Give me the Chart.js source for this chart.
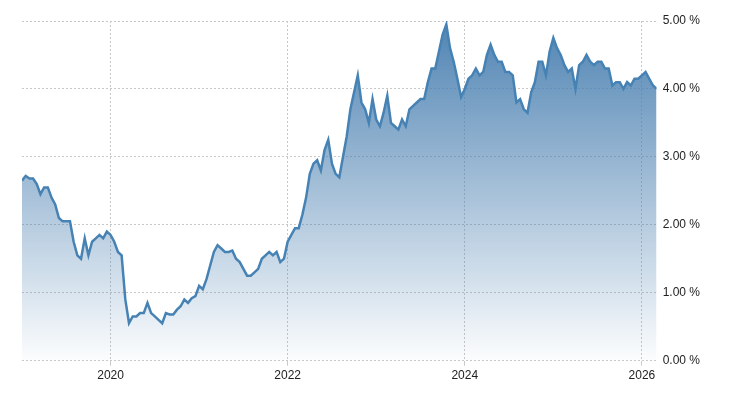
<!DOCTYPE html>
<html>
<head>
<meta charset="utf-8">
<script src="https://cdn.jsdelivr.net/npm/chart.js@4"></script>
<style>
  body { margin: 0; background: #fff; }
  #wrap { width: 730px; height: 400px; }
</style>
</head>
<body>
<div id="wrap"><canvas id="chart"></canvas></div>
<script>
// yield, two readings per month from Jan 2019
const startYear = 2019;
const yields = [
  2.65, 2.72, 2.68, 2.68, 2.60, 2.45, 2.55, 2.55, 2.40, 2.30, 2.10, 2.05,
  2.05, 2.05, 1.75, 1.55, 1.50, 1.80, 1.55, 1.75, 1.80, 1.85, 1.80, 1.90,
  1.85, 1.75, 1.60, 1.55, 0.90, 0.55, 0.65, 0.65, 0.70, 0.70, 0.85, 0.70,
  0.65, 0.60, 0.55, 0.70, 0.68, 0.68, 0.75, 0.80, 0.90, 0.85, 0.92, 0.95,
  1.10, 1.05, 1.20, 1.40, 1.60, 1.70, 1.65, 1.60, 1.60, 1.62, 1.50, 1.45,
  1.35, 1.25, 1.25, 1.30, 1.35, 1.50, 1.55, 1.60, 1.55, 1.60, 1.45, 1.50,
  1.75, 1.85, 1.95, 1.95, 2.15, 2.40, 2.75, 2.90, 2.95, 2.80, 3.10, 3.25,
  2.90, 2.75, 2.70, 3.00, 3.30, 3.70, 3.95, 4.20, 3.80, 3.70, 3.50, 3.85,
  3.55, 3.45, 3.65, 3.90, 3.50, 3.45, 3.40, 3.55, 3.45, 3.70, 3.75, 3.80,
  3.85, 3.85, 4.10, 4.30, 4.30, 4.55, 4.80, 4.95, 4.60, 4.40, 4.15, 3.88,
  4.00, 4.15, 4.20, 4.30, 4.20, 4.25, 4.50, 4.65, 4.50, 4.40, 4.40, 4.25,
  4.25, 4.20, 3.80, 3.85, 3.70, 3.65, 3.95, 4.10, 4.40, 4.40, 4.20, 4.55,
  4.75, 4.60, 4.50, 4.35, 4.25, 4.30, 4.00, 4.35, 4.40, 4.50, 4.40, 4.35,
  4.40, 4.40, 4.30, 4.30, 4.05, 4.10, 4.10, 4.00, 4.10, 4.05, 4.15, 4.15,
  4.20, 4.25, 4.15, 4.05, 4.00
];
const yearTicks = [2020, 2022, 2024, 2026];

const points = yields.map((v, i) => ({ x: startYear + i / 24, y: v }));

const ctx = document.getElementById('chart').getContext('2d');
const grad = ctx.createLinearGradient(0, 21, 0, 360);
grad.addColorStop(0, 'rgba(70,125,175,0.95)');
grad.addColorStop(1, 'rgba(70,125,175,0.02)');

new Chart(ctx, {
  type: 'line',
  data: {
    datasets: [{
      data: points,
      borderColor: '#4682b4',
      borderWidth: 2.5,
      backgroundColor: grad,
      fill: 'origin',
      pointRadius: 0,
      tension: 0,
    }],
  },
  options: {
    responsive: true,
    maintainAspectRatio: false,
    animation: false,
    layout: { padding: { left: 22, top: 21, right: 24, bottom: 14 } },
    plugins: { legend: { display: false }, tooltip: { enabled: false } },
    scales: {
      x: {
        type: 'linear',
        min: startYear,
        max: startYear + (yields.length - 1) / 24,
        afterBuildTicks: (axis) => { axis.ticks = yearTicks.map((v) => ({ value: v })); },
        ticks: { color: '#222', font: { family: 'Arial, Liberation Sans', size: 12 }, callback: (v) => String(v), maxRotation: 0 },
        grid: { color: '#c8c8c8', drawTicks: true, tickLength: 5 },
        border: { display: false, dash: [2, 2] },
      },
      y: {
        position: 'right',
        min: 0,
        max: 5,
        ticks: { stepSize: 1, color: '#222', font: { family: 'Arial, Liberation Sans', size: 12 }, callback: (v) => v.toFixed(2) + ' %', padding: 6 },
        grid: { color: '#c8c8c8', drawTicks: false },
        border: { display: false, dash: [2, 2] },
      },
    },
  },
});
</script>
</body>
</html>
